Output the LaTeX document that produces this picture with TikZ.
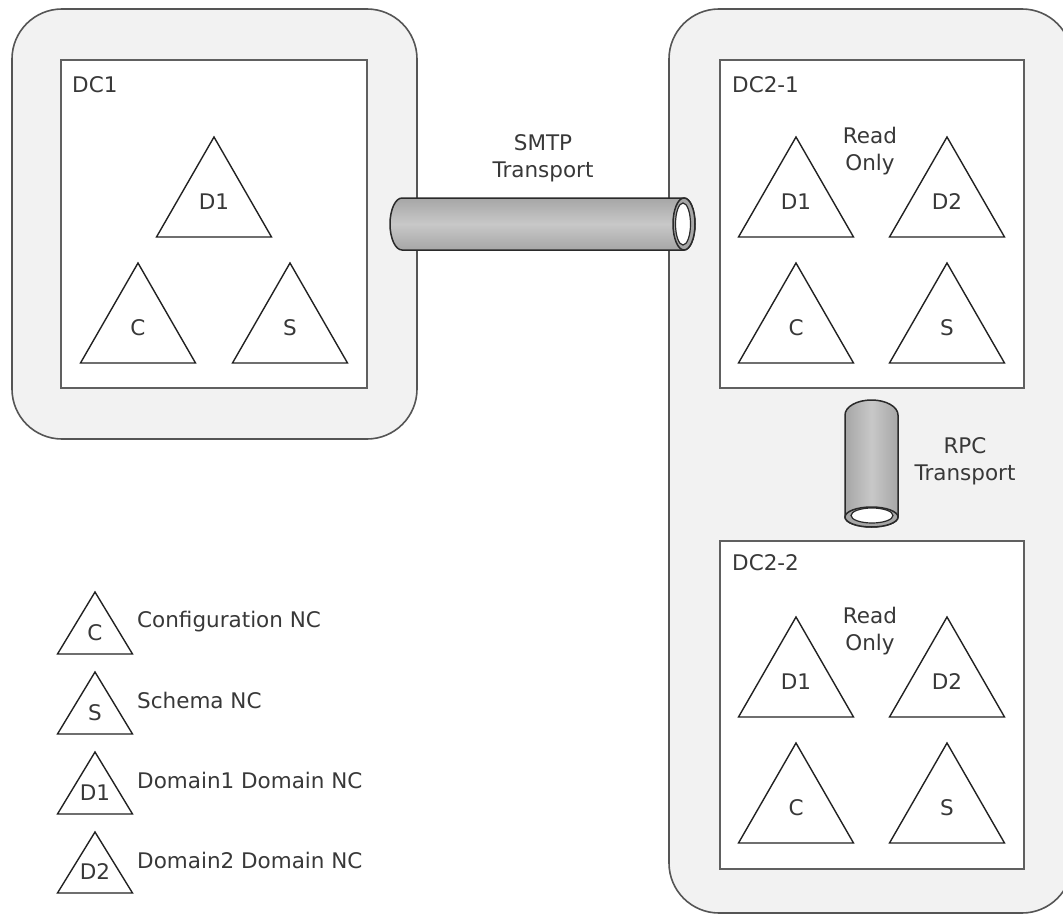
\documentclass[tikz,border=0pt]{standalone}
\usepackage{fontspec}
\setmainfont{DejaVu Sans}
\definecolor{sitefill}{HTML}{F2F2F2}
\definecolor{siteline}{HTML}{555555}
\definecolor{boxline}{HTML}{606060}
\definecolor{triline}{HTML}{222222}
\definecolor{txt}{HTML}{383838}
\definecolor{cylA}{HTML}{A6A6A6}
\definecolor{cylB}{HTML}{C8C8C8}
\definecolor{cylline}{HTML}{2A2A2A}
\newcommand\ntri[6]{%
  \draw[tri] (#2,#3) -- ++(#4,#5) -- ++(-2*#4,0) -- cycle;
  \node[lbl] (#1) at (#2,#3+0.65*#5) {#6};}
\begin{document}
\begin{tikzpicture}[x=1pt,y=-1pt,
  site/.style={draw=siteline,line width=1.6pt,fill=sitefill,rounded corners=50pt,inner sep=0pt},
  dcbox/.style={draw=boxline,line width=2.2pt,fill=white,inner sep=0pt},
  tri/.style={draw=triline,line width=1.4pt,line join=miter},
  lbl/.style={text=txt,font=\fontsize{21.5}{27}\selectfont,inner sep=0pt},
  cyl/.style={draw=cylline,line width=1.5pt},
]
\useasboundingbox (0,0) rectangle (1063,915);
% sites
\node[site,minimum width=405pt,minimum height=430pt] (site1) at (214.5,224) {};
\node[site,minimum width=403pt,minimum height=904pt] (site2) at (870.5,461) {};
% DC boxes
\node[dcbox,minimum width=306pt,minimum height=328pt] (dc1) at (214,224) {};
\node[dcbox,minimum width=304pt,minimum height=328pt] (dc21) at (872,224) {};
\node[dcbox,minimum width=304pt,minimum height=328pt] (dc22) at (872,705) {};
\node[lbl,anchor=west] (dc1lbl) at (72,85) {DC1};
\node[lbl,anchor=west] (dc21lbl) at (732,85) {DC2-1};
\node[lbl,anchor=west] (dc22lbl) at (732,563) {DC2-2};
% DC1 triangles
\ntri{a-d1}{214}{137}{57.5}{100}{D1}
\ntri{a-c}{138}{263}{57.5}{100}{C}
\ntri{a-s}{290}{263}{57.5}{100}{S}
% DC2-1 triangles
\ntri{b-d1}{796}{137}{57.5}{100}{D1}
\ntri{b-d2}{947}{137}{57.5}{100}{D2}
\ntri{b-c}{796}{263}{57.5}{100}{C}
\ntri{b-s}{947}{263}{57.5}{100}{S}
\node[lbl,align=center] (b-ro) at (870,151) {Read\\Only};
% DC2-2 triangles
\ntri{c-d1}{796}{617}{57.5}{100}{D1}
\ntri{c-d2}{947}{617}{57.5}{100}{D2}
\ntri{c-c}{796}{743}{57.5}{100}{C}
\ntri{c-s}{947}{743}{57.5}{100}{S}
\node[lbl,align=center] (c-ro) at (870,631) {Read\\Only};
% SMTP cylinder
\path[cyl,top color=cylA,bottom color=cylA,middle color=cylB]
  (402,198) -- (684,198) arc[start angle=-90,end angle=90,x radius=11,y radius=26]
  -- (402,250) arc[start angle=90,end angle=270,x radius=12,y radius=26] -- cycle;
\draw[cyl,fill=cylA] (684,224) ellipse[x radius=11,y radius=26];
\draw[cyl,line width=1.2pt,fill=white] (683,224) ellipse[x radius=7.5,y radius=21];
\node[lbl,align=center] (smtp) at (543,158) {SMTP\\Transport};
% RPC cylinder
\path[cyl,left color=cylA,right color=cylA,middle color=cylB]
  (845,517) -- (845,415) arc[start angle=180,end angle=360,x radius=26.5,y radius=15]
  -- (898,517) arc[start angle=0,end angle=180,x radius=26.5,y radius=10] -- cycle;
\draw[cyl,fill=cylA] (871.5,517) ellipse[x radius=26.5,y radius=10];
\draw[cyl,line width=1.2pt,fill=white] (872,515.5) ellipse[x radius=21,y radius=7.5];
\node[lbl,align=center] (rpc) at (965,461) {RPC\\Transport};
% legend
\ntri{l-c}{95}{592}{37.5}{62}{C}
\ntri{l-s}{95}{672}{37.5}{62}{S}
\ntri{l-d1}{95}{752}{37.5}{62}{D1}
\ntri{l-d2}{95}{832}{37.5}{61}{D2}
\node[lbl,anchor=west] (l-ct) at (137,622) {Configuration NC};
\node[lbl,anchor=west] (l-st) at (137,700) {Schema NC};
\node[lbl,anchor=west] (l-d1t) at (137,780) {Domain1 Domain NC};
\node[lbl,anchor=west] (l-d2t) at (137,860) {Domain2 Domain NC};
\end{tikzpicture}
\end{document}
